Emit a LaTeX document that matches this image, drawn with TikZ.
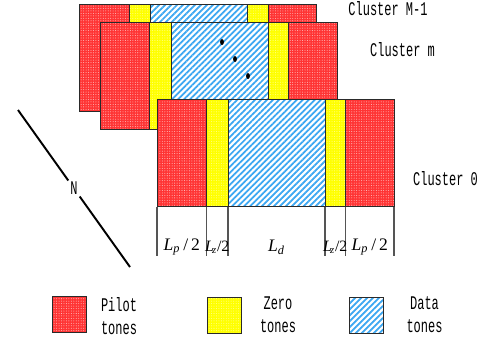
\documentclass[tikz,border=0pt]{standalone}
\usepackage{fontspec}
\newfontfamily\labelfont[FakeStretch=0.62]{Liberation Mono}
\newfontfamily\dimfont{Liberation Serif}
\usetikzlibrary{patterns.meta,positioning,calc}
\definecolor{ink}{HTML}{2A2A2A}
\definecolor{pilotred}{HTML}{FF3434}
\definecolor{zeroyellow}{HTML}{FFFF00}
\definecolor{datablue}{HTML}{3BA7F2}
\tikzset{
  pilot/.style={preaction={fill=pilotred},
                pattern={Dots[distance=1.4pt,radius=0.3pt]},pattern color=white!65!pilotred,
                draw=ink,line width=0.5pt},
  zero/.style={preaction={fill=zeroyellow},
               pattern={Dots[distance=1.4pt,radius=0.3pt]},pattern color=white!55!zeroyellow,
               draw=ink,line width=0.5pt},
  data/.style={preaction={fill=white},
               pattern={Lines[angle=45,distance=2.4pt,line width=1pt]},pattern color=datablue,
               draw=ink,line width=0.5pt},
  clabel/.style={font=\labelfont\fontsize{11}{13}\selectfont,inner sep=1pt},
  keylabel/.style={font=\labelfont\fontsize{11}{13}\selectfont,align=center,inner sep=1pt},
  dimtick/.style={draw=ink!80,line width=0.6pt},
  dimlabel/.style={font=\dimfont\fontsize{10}{12}\selectfont,inner sep=0pt},
  narrowlabel/.style={font=\dimfont\fontsize{9}{11}\selectfont,inner sep=0pt},
  keybox/.style={minimum width=0.68cm,minimum height=0.72cm,inner sep=0pt}
}

\begin{document}
\begin{tikzpicture}[x=0.02cm,y=-0.02cm]
  \useasboundingbox (0,0) rectangle (484,343);
  % clusters, back to front
  \foreach \cx/\cy in {79.5/4, 100/22, 157/99.5}
    \foreach \a/\b/\s in {0/49.5/pilot, 49.5/71/zero, 71/168/data, 168/188.5/zero, 188.5/237/pilot}
      \path[\s] (\cx+\a,\cy) rectangle (\cx+\b,\cy+107);
  \fill[black] (222,42) ellipse [x radius=1.1pt,y radius=1.7pt];
  \fill[black] (235,59) ellipse [x radius=1.1pt,y radius=1.7pt];
  \fill[black] (248,76) ellipse [x radius=1.1pt,y radius=1.7pt];

  \node[clabel] (clmlast) at (388,9) {Cluster M-1};
  \node[clabel] (clm) at (402.5,49.5) {Cluster m};
  \node[clabel] (clzero) at (445.5,178.5) {Cluster 0};

  % widths under cluster 0
  \foreach \t [count=\i] in {0,49.5,71,168,188.5,237}
    \coordinate (tick\i) at (157+\t,206.5);
  \foreach \i in {1,...,6}
    \draw[dimtick] (tick\i) -- ++(0,49);
  \node[dimlabel] (lp1) at ($(tick1)!0.5!(tick2)+(0,40.5)$) {\textit{L}\textsubscript{\textit{p}}\,/\,2};
  \node[narrowlabel] (lz1) at ($(tick2)!0.5!(tick3)+(0,40.5)$) {\textit{L}\kern-0.12em\textsubscript{\textit{z}}/2};
  \node[dimlabel] (ld) at ($(tick3)!0.5!(tick4)+(0,40.5)$) {\textit{L}\textsubscript{\textit{d}}};
  \node[narrowlabel] (lz2) at ($(tick4)!0.5!(tick5)+(0,40.5)$) {\textit{L}\kern-0.12em\textsubscript{\textit{z}}/2};
  \node[dimlabel] (lp2) at ($(tick5)!0.5!(tick6)+(0,40.5)$) {\textit{L}\textsubscript{\textit{p}}\,/\,2};

  % number of clusters
  \coordinate (nstart) at (18,110);
  \coordinate (nend) at (130,267);
  \node[clabel] (nlabel) at ($(nstart)!0.5!(nend)$) {N};
  \draw[line width=1.1pt] (nstart) -- (nlabel);
  \draw[line width=1.1pt] (nlabel) -- (nend);

  % legend
  \node[pilot,keybox] (keypilot) at (69.7,314) {};
  \node[keylabel] (txtpilot) at (119,316.5) {Pilot\\tones};
  \node[zero,keybox] (keyzero) at (224,315) {};
  \node[keylabel] (txtzero) at (278,315) {Zero\\tones};
  \node[data,keybox] (keydata) at (366,315) {};
  \node[keylabel] (txtdata) at (424.5,315) {Data\\tones};
\end{tikzpicture}
\end{document}
